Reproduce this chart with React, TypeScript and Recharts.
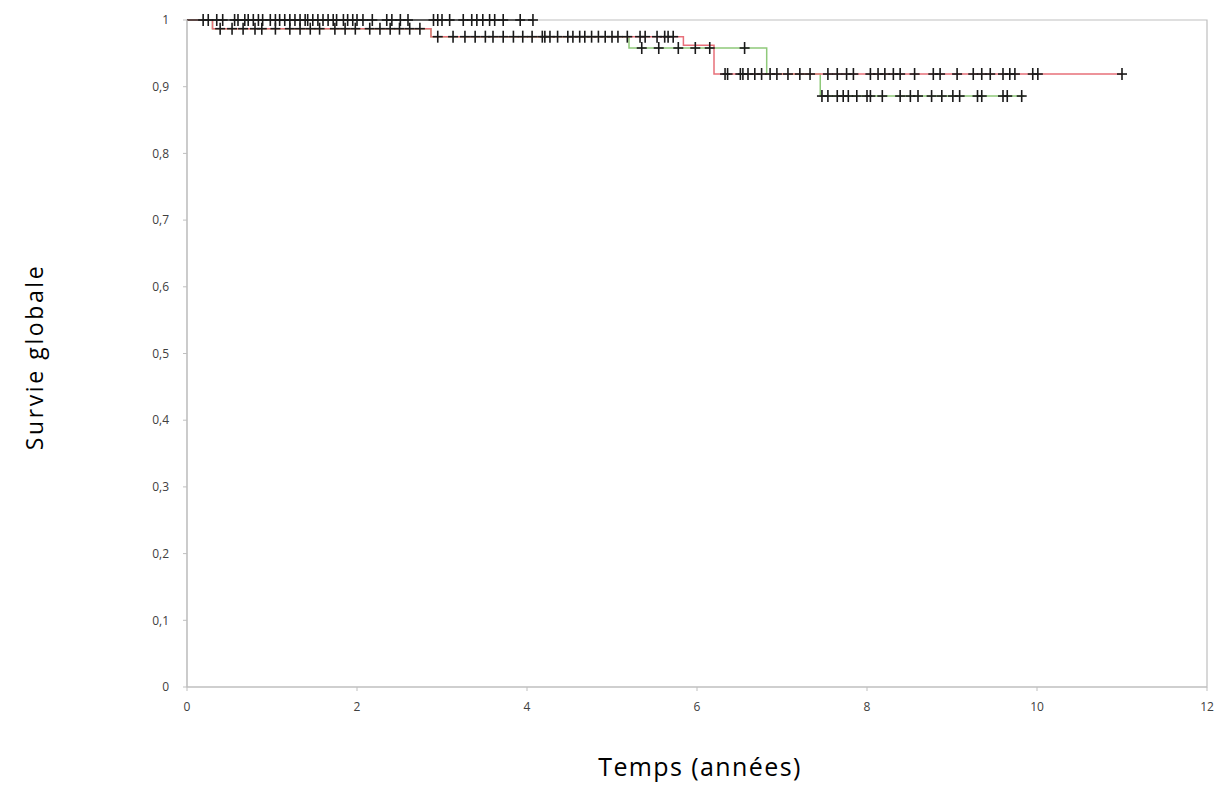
import React from "react";
import { ComposedChart, Line, Scatter, XAxis, YAxis, ReferenceArea, Label } from "recharts";

// Kaplan-Meier steps (time in years, survival)
const stepsBlack = [
  { t: 0, s: 1 },
  { t: 4.07, s: 1 },
];
const stepsRed = [
  { t: 0, s: 1 },
  { t: 0.3, s: 0.987 },
  { t: 2.87, s: 0.975 },
  { t: 5.84, s: 0.962 },
  { t: 6.2, s: 0.919 },
  { t: 11.0, s: 0.919 },
];
const stepsGreen = [
  { t: 0, s: 1 },
  { t: 0.3, s: 0.987 },
  { t: 2.87, s: 0.975 },
  { t: 5.2, s: 0.958 },
  { t: 6.82, s: 0.919 },
  { t: 7.45, s: 0.886 },
  { t: 9.85, s: 0.886 },
];

// censored observations, grouped by the survival level they sit on
const censor100 = [0.19, 0.25, 0.35, 0.42, 0.56, 0.6, 0.68, 0.72, 0.78, 0.84, 0.89, 0.98, 1.04, 1.09, 1.15, 1.21, 1.27, 1.33, 1.39, 1.42, 1.48, 1.54, 1.6, 1.66, 1.72, 1.76, 1.84, 1.89, 1.95, 2.0, 2.07, 2.18, 2.35, 2.41, 2.51, 2.6, 2.9, 2.95, 3.0, 3.09, 3.25, 3.35, 3.41, 3.48, 3.56, 3.62, 3.72, 3.92, 4.07];
const censor987 = [0.39, 0.53, 0.66, 0.8, 0.88, 1.04, 1.21, 1.33, 1.45, 1.56, 1.74, 1.86, 1.98, 2.15, 2.27, 2.39, 2.5, 2.62, 2.74];
const censor975 = [2.95, 3.13, 3.27, 3.39, 3.51, 3.6, 3.72, 3.84, 3.95, 4.06, 4.18, 4.21, 4.27, 4.36, 4.48, 4.54, 4.62, 4.68, 4.76, 4.84, 4.92, 5.0, 5.07, 5.18, 5.33, 5.39, 5.53, 5.62, 5.66, 5.72];
const censor958 = [5.35, 5.55, 5.78, 5.98, 6.15, 6.56];
const censor919 = [6.33, 6.36, 6.51, 6.54, 6.6, 6.68, 6.76, 6.86, 6.94, 7.07, 7.21, 7.33, 7.54, 7.65, 7.76, 7.84, 8.04, 8.13, 8.21, 8.31, 8.39, 8.56, 8.78, 8.86, 9.06, 9.25, 9.35, 9.45, 9.6, 9.68, 9.74, 9.95, 10.01, 11.0];
const censor886 = [7.47, 7.54, 7.65, 7.72, 7.78, 7.88, 8.0, 8.04, 8.18, 8.39, 8.51, 8.6, 8.76, 8.88, 9.01, 9.09, 9.3, 9.35, 9.6, 9.65, 9.82];

const xTicks = [0, 2, 4, 6, 8, 10, 12];
const yTicks = [0, 0.1, 0.2, 0.3, 0.4, 0.5, 0.6, 0.7, 0.8, 0.9, 1];

const censorPoints = [
  ...censor100.map((t) => ({ t, s: 1 })),
  ...censor987.map((t) => ({ t, s: 0.987 })),
  ...censor975.map((t) => ({ t, s: 0.975 })),
  ...censor958.map((t) => ({ t, s: 0.958 })),
  ...censor919.map((t) => ({ t, s: 0.919 })),
  ...censor886.map((t) => ({ t, s: 0.886 })),
];

const fmtY = (v: number) => (v === 0 || v === 1 ? String(v) : v.toFixed(1).replace(".", ","));

const Cross = (props: any) => {
  const { cx, cy } = props;
  if (cx == null || cy == null) return null;
  return (
    <g stroke="#1a1a1a" strokeWidth={1.6}>
      <line x1={cx} y1={cy - 6} x2={cx} y2={cy + 6} />
      <line x1={cx - 5} y1={cy} x2={cx + 5} y2={cy} />
    </g>
  );
};

const tickStyle = { fontSize: 12, fill: "#404040", fontFamily: "'Open Sans', sans-serif" };

export default function App() {
  return (
    <div style={{ position: "absolute", left: 0, top: 0, background: "#fff" }}>
      <ComposedChart width={1225} height={787} margin={{ top: 20, right: 18, left: 0, bottom: 0 }}>
        <XAxis
          dataKey="t"
          type="number"
          domain={[0, 12]}
          ticks={xTicks}
          allowDataOverflow
          height={100}
          stroke="#bfbfbf"
          tickSize={4}
          tickMargin={11}
          tick={tickStyle}
        >
          <Label
            content={() => (
              <text x={700} y={776} textAnchor="middle" fontSize={25} letterSpacing={1.4} fill="#000" fontFamily="'Open Sans', sans-serif">
                Temps (années)
              </text>
            )}
          />
        </XAxis>
        <YAxis
          type="number"
          domain={[0, 1]}
          ticks={yTicks}
          width={187}
          stroke="#bfbfbf"
          tickSize={4}
          tickMargin={14}
          tick={tickStyle}
          tickFormatter={fmtY}
        >
          <Label
            content={() => (
              <text
                x={43}
                y={357}
                transform="rotate(-90 43 357)"
                textAnchor="middle"
                fontSize={23}
                letterSpacing={2.6}
                fill="#000"
                fontFamily="'Open Sans', sans-serif"
              >
                Survie globale
              </text>
            )}
          />
        </YAxis>
        <ReferenceArea x1={0} x2={12} y1={0} y2={1} fill="none" stroke="#bfbfbf" strokeWidth={1.2} />
        <Line data={stepsGreen} dataKey="s" type="stepAfter" stroke="#8fc97a" strokeWidth={1.5} dot={false} isAnimationActive={false} />
        <Line data={stepsRed} dataKey="s" type="stepAfter" stroke="#e8707a" strokeWidth={1.5} dot={false} isAnimationActive={false} />
        <Line data={stepsBlack} dataKey="s" type="stepAfter" stroke="#333" strokeWidth={1.5} dot={false} isAnimationActive={false} />
        <Scatter data={censorPoints} dataKey="s" shape={<Cross />} isAnimationActive={false} />
      </ComposedChart>
    </div>
  );
}
